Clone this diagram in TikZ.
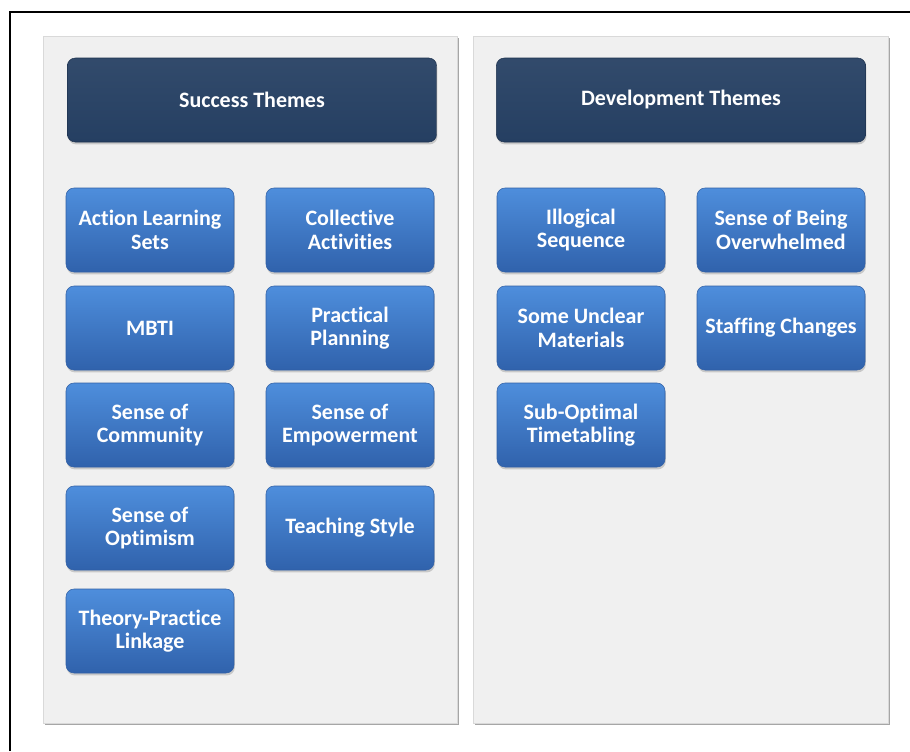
\documentclass[tikz,border=0pt]{standalone}
\usepackage{fontspec}
\setmainfont{Carlito}[Ligatures=NoCommon]
\usepackage{xcolor}
\usepackage{tikz}
\usetikzlibrary{shadows}

\definecolor{navy}{RGB}{37,63,98}
\definecolor{boxtop}{RGB}{78,142,220}
\definecolor{boxbot}{RGB}{48,98,172}
\definecolor{boxline}{RGB}{50,96,165}
\definecolor{panelfill}{RGB}{240,240,240}

\tikzset{
    theme/.style={rectangle, rounded corners=6pt, draw=boxline, thin,
        top color=boxtop, bottom color=boxbot, text=white,
        font=\bfseries\fontsize{16.5}{17.5}\selectfont, align=center,
        minimum width=126pt, minimum height=63pt, inner sep=2pt,
        drop shadow={shadow xshift=0.6pt, shadow yshift=-1.8pt, opacity=0.35}},
    header/.style={theme, draw=navy!80!black, top color=navy!94!white, bottom color=navy,
        minimum width=277pt},
    panel/.style={fill=panelfill, draw=gray!30,
        drop shadow={shadow xshift=1.6pt, shadow yshift=-1.6pt, fill=gray!70, opacity=1}}
}

\begin{document}
\begin{tikzpicture}[x=0.75pt,y=-0.75pt]
        \useasboundingbox (0,0) rectangle (910,751);
        % outer frame
        \draw[black, line width=1.6pt] (10,751) -- (10,12) -- (910,12);
        % panels
        \path[panel] (43,36) rectangle (457,723);
        \path[panel] (473,36) rectangle (888,723);

        % Success
        \node[header] (succ) at (252,100) {Success Themes};
        \node[theme] (als) at (150,230) {Action Learning\\Sets};
        \node[theme] (coll) at (350,230) {Collective\\Activities};
        \node[theme] (mbti) at (150,328) {MBTI};
        \node[theme] (plan) at (350,328) {Practical\\Planning};
        \node[theme] (comm) at (150,425) {Sense of\\Community};
        \node[theme] (empw) at (350,425) {Sense of\\Empowerment};
        \node[theme] (optm) at (150,528) {Sense of\\Optimism};
        \node[theme] (teach) at (350,528) {Teaching Style};
        \node[theme] (link) at (150,631) {Theory-Practice\\Linkage};

        % Development
        \node[header] (devt) at (681,100) {Development Themes};
        \node[theme] (illog) at (581,230) {Illogical\\Sequence};
        \node[theme] (overw) at (781,230) {Sense of Being\\Overwhelmed};
        \node[theme] (uncl) at (581,328) {Some Unclear\\Materials};
        \node[theme] (staff) at (781,328) {Staffing Changes};
        \node[theme] (timet) at (581,425) {Sub-Optimal\\Timetabling};
\end{tikzpicture}
\end{document}
